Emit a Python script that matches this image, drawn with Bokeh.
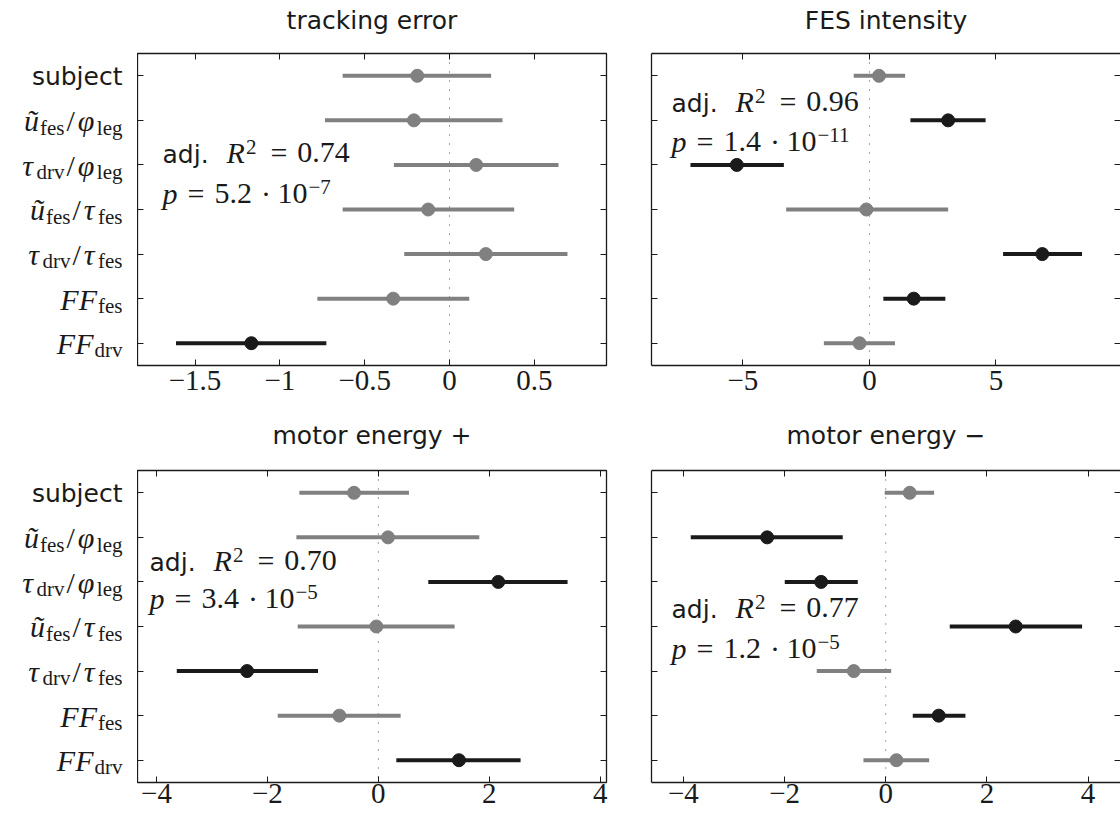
from bokeh.plotting import figure
from bokeh.models import Range1d, FixedTicker, LinearAxis, Span, Label, ColumnDataSource
from bokeh.layouts import gridplot
from bokeh.embed import file_html
from bokeh.resources import INLINE

# ---------------------------------------------------------------- data
predictors = ["subject", "ũ_fes/φ_leg", "τ_drv/φ_leg", "ũ_fes/τ_fes",
              "τ_drv/τ_fes", "FF_fes", "FF_drv"]
row_pos = [7, 6, 5, 4, 3, 2, 1]

titles = ["tracking error", "FES intensity", "motor energy +", "motor energy −"]

# tracking error
te_est = [-0.190, -0.210, 0.157, -0.126, 0.214, -0.332, -1.168]
te_lo = [-0.630, -0.734, -0.328, -0.630, -0.267, -0.779, -1.612]
te_hi = [0.245, 0.312, 0.642, 0.381, 0.695, 0.116, -0.726]
te_sig = [0, 0, 0, 0, 0, 0, 1]

# FES intensity
fi_est = [0.38, 3.11, -5.24, -0.12, 6.83, 1.75, -0.39]
fi_lo = [-0.62, 1.62, -7.07, -3.29, 5.28, 0.55, -1.80]
fi_hi = [1.41, 4.59, -3.38, 3.11, 8.40, 3.00, 1.01]
fi_sig = [0, 1, 1, 0, 1, 1, 0]

# motor energy +
mp_est = [-0.439, 0.174, 2.162, -0.036, -2.367, -0.703, 1.453]
mp_lo = [-1.424, -1.478, 0.900, -1.454, -3.634, -1.814, 0.324]
mp_hi = [0.552, 1.820, 3.411, 1.375, -1.088, 0.402, 2.564]
mp_sig = [0, 0, 1, 0, 1, 0, 1]

# motor energy -
mm_est = [0.474, -2.344, -1.277, 2.569, -0.632, 1.047, 0.211]
mm_lo = [-0.020, -3.854, -1.996, 1.265, -1.364, 0.534, -0.441]
mm_hi = [0.956, -0.850, -0.553, 3.881, 0.107, 1.575, 0.858]
mm_sig = [0, 1, 1, 1, 0, 1, 0]

adj_r2 = ["0.74", "0.96", "0.70", "0.77"]
p_mantissa = ["5.2", "1.4", "3.4", "1.2"]
p_exponent = ["−7", "−11", "−5", "−5"]

te_ticks = [-1.5, -1, -0.5, 0, 0.5]
te_tick_labels = ["−1.5", "−1", "−0.5", "0", "0.5"]
fi_ticks = [-5, 0, 5]
fi_tick_labels = ["−5", "0", "5"]
me_ticks = [-4, -2, 0, 2, 4]
me_tick_labels = ["−4", "−2", "0", "2", "4"]

# ---------------------------------------------------------------- style
INK = "#1a1a1a"
GREY = "#808080"
SERIF = "Liberation Serif"
SANS = "DejaVu Sans"
MATH_PX = 30
SUB_PX = 21
SANS_PX = 25
TICK_PX = 29
BASE_K = 0.32          # text anchor sits this many em above the baseline
TITLE_H = 45           # height of the strip carrying each panel title

ROMAN_W = {"d": .5, "r": .333, "v": .5, "f": .333, "e": .444, "s": .389,
           "l": .278, "g": .5, "/": .278, ".": .25, "=": .564, "·": .25,
           "−": .564, "+": .564, " ": .25}
ITALIC_W = {"F": .611, "R": .611, "p": .5, "ũ": .5, "τ": .44, "φ": .6}
SANS_W = {"a": .613, "d": .635, "j": .278, ".": .318, "s": .521, "u": .634,
          "b": .635, "e": .615, "c": .55, "t": .392}


def width_of(text, font, style, px):
    if font == SANS:
        table = SANS_W
    elif style == "italic":
        table = ITALIC_W
    else:
        table = ROMAN_W
    return px * sum(table.get(c, 0.5) for c in text)


def draw_runs(p, runs, x, y, dx, dy, align="left"):
    """Typeset text runs (text, font, style, px, rise, lead, trail) on one baseline."""
    advs = [r[5] + width_of(r[0], r[1], r[2], r[3]) + r[6] for r in runs]
    cur = dx - sum(advs) if align == "right" else dx
    for (t, f, s, px, rise, lead, trail), a in zip(runs, advs):
        p.add_layout(Label(x=x, y=y, x_offset=cur + lead,
                           y_offset=dy + rise + BASE_K * px,
                           text=t, text_font=f, text_font_style=s,
                           text_font_size=f"{px}px", text_color=INK,
                           text_align="left", text_baseline="alphabetic"))
        cur += a


def predictor_runs(name):
    if "_" not in name:
        return [(name, SANS, "normal", SANS_PX, 1, 0, 0)]
    runs = []
    for k, part in enumerate(name.split("/")):
        if k:
            runs.append(("/", SERIF, "normal", MATH_PX, 0, 2, 3))
        base, sub = part.split("_")
        runs.append((base, SERIF, "italic", MATH_PX, 0, 0, 1))
        runs.append((sub, SERIF, "normal", SUB_PX, -4, 0, 0))
    return runs


def blank(width, height, xr, yr, borders):
    left, right, top, bottom = borders
    f = figure(width=width, height=height, x_range=xr, y_range=yr,
               x_axis_type=None, y_axis_type=None, output_backend="svg",
               toolbar_location=None, min_border_left=left,
               min_border_right=right, min_border_top=top,
               min_border_bottom=bottom)
    f.outline_line_color = None
    f.grid.visible = False
    f.background_fill_color = "white"
    f.border_fill_color = "white"
    return f


def name_strip(height, top, bottom):
    """Column holding the predictor names, sharing the panels' row layout."""
    s = blank(137, height, Range1d(0, 137), Range1d(0.5, 7.5), (0, 0, top, bottom))
    for name, yv in zip(predictors, row_pos):
        draw_runs(s, predictor_runs(name), 122, yv, 0, -10, align="right")
    return s


def title_strip(text, width, xlim, left, right, baseline):
    t = blank(width, TITLE_H, Range1d(*xlim), Range1d(0, TITLE_H), (left, right, 0, 0))
    t.add_layout(Label(x=(xlim[0] + xlim[1]) / 2, y=TITLE_H - baseline,
                       y_offset=BASE_K * SANS_PX, text=text, text_font=SANS,
                       text_font_size=f"{SANS_PX}px", text_color=INK,
                       text_align="center", text_baseline="alphabetic"))
    return t


def panel(est, lo, hi, sig, xlim, ticks, tick_labels, r2, mant, expo,
          width, height, borders, label_gap, note_dx, note_drop, open_right):
    left, right, top, bottom = borders
    p = figure(width=width, height=height, x_range=Range1d(*xlim),
               y_range=Range1d(0.5, 7.5), output_backend="svg",
               toolbar_location=None, min_border_left=left,
               min_border_right=right, min_border_top=top,
               min_border_bottom=bottom)
    top_ax = LinearAxis()
    right_ax = LinearAxis()
    p.add_layout(top_ax, "above")
    p.add_layout(right_ax, "right")
    bottom_ax = p.below[0]
    left_ax = p.left[0]
    p.grid.visible = False
    p.background_fill_color = "white"
    p.border_fill_color = "white"
    for ax in (bottom_ax, top_ax):
        ax.ticker = FixedTicker(ticks=ticks)
    for ax in (left_ax, right_ax):
        ax.ticker = FixedTicker(ticks=row_pos)
    for ax in (bottom_ax, top_ax, left_ax, right_ax):
        ax.axis_line_color = None
        ax.major_tick_in = 6
        ax.major_tick_out = 0
        ax.major_tick_line_color = INK
        ax.major_tick_line_width = 1
        ax.minor_tick_line_color = None
        ax.major_label_text_font_size = "0px"
        ax.major_label_text_color = None
        ax.major_label_standoff = 0
    if open_right:
        # the box runs off the page edge on the right: frame three sides only
        p.outline_line_color = None
        for ax in (bottom_ax, top_ax, left_ax):
            ax.axis_line_color = INK
            ax.axis_line_width = 1.3
    else:
        p.outline_line_color = INK
        p.outline_line_width = 1.3
    bottom_ax.major_label_overrides = {float(t): lab for t, lab in zip(ticks, tick_labels)}
    bottom_ax.major_label_text_font = SERIF
    bottom_ax.major_label_text_font_size = f"{TICK_PX}px"
    bottom_ax.major_label_text_color = INK
    bottom_ax.major_label_standoff = label_gap

    p.add_layout(Span(location=0, dimension="height", line_color="#444444",
                      line_width=1, line_dash="1 8", level="underlay"))

    src = ColumnDataSource(dict(y=row_pos, est=est, lo=lo, hi=hi,
                                color=[INK if s else GREY for s in sig]))
    p.segment(x0="lo", y0="y", x1="hi", y1="y", line_color="color",
              line_width=4, source=src)
    p.scatter(x="est", y="y", size=13, fill_color="color", line_color="color",
              line_width=1, source=src)

    # fit statistics
    line1 = [("adj.", SANS, "normal", SANS_PX, 0, 0, 18),
             ("R", SERIF, "italic", MATH_PX, 0, 0, 0),
             ("2", SERIF, "normal", SUB_PX, 9, 1, 0),
             ("=", SERIF, "normal", MATH_PX, 0, 14, 10),
             (r2, SERIF, "normal", MATH_PX, 0, 0, 0)]
    line2 = [("p", SERIF, "italic", MATH_PX, 0, 0, 0),
             ("=", SERIF, "normal", MATH_PX, 0, 10, 10),
             (mant, SERIF, "normal", MATH_PX, 0, 0, 0),
             ("·", SERIF, "normal", MATH_PX, 0, 9, 9),
             ("10", SERIF, "normal", MATH_PX, 0, 0, 0),
             (expo, SERIF, "normal", SUB_PX, 10, 1, 0)]
    draw_runs(p, line1, xlim[0], 7.5, note_dx, -note_drop[0])
    draw_runs(p, line2, xlim[0], 7.5, note_dx, -note_drop[1])
    return p


TE_LIM = (-1.839, 0.925)
FI_LIM = (-8.61, 9.92)
MP_LIM = (-4.342, 4.113)
MM_LIM = (-4.63, 4.64)
PANEL_H = 408 - TITLE_H

t1 = title_strip(titles[0], 503, TE_LIM, 0, 34, 28)
t2 = title_strip(titles[1], 480, FI_LIM, 11, 0, 28)
s1 = name_strip(PANEL_H, 8, 43)
p1 = panel(te_est, te_lo, te_hi, te_sig, TE_LIM, te_ticks, te_tick_labels,
           adj_r2[0], p_mantissa[0], p_exponent[0],
           503, PANEL_H, (0, 34, 8, 43), 5, 25, (109, 150), False)
p2 = panel(fi_est, fi_lo, fi_hi, fi_sig, FI_LIM, fi_ticks, fi_tick_labels,
           adj_r2[1], p_mantissa[1], p_exponent[1],
           480, PANEL_H, (11, 0, 8, 43), 5, 20, (58, 98), True)

t3 = title_strip(titles[2], 503, MP_LIM, 0, 34, 35)
t4 = title_strip(titles[3], 480, MM_LIM, 11, 0, 35)
s3 = name_strip(PANEL_H, 17, 34)
p3 = panel(mp_est, mp_lo, mp_hi, mp_sig, MP_LIM, me_ticks, me_tick_labels,
           adj_r2[2], p_mantissa[2], p_exponent[2],
           503, PANEL_H, (0, 34, 17, 34), 1, 12, (100, 138), False)
p4 = panel(mm_est, mm_lo, mm_hi, mm_sig, MM_LIM, me_ticks, me_tick_labels,
           adj_r2[3], p_mantissa[3], p_exponent[3],
           480, PANEL_H, (11, 0, 17, 34), 1, 20, (147, 188), True)

grid = gridplot([[None, t1, t2], [s1, p1, p2], [None, t3, t4], [s3, p3, p4]],
                toolbar_location=None)

open("out.html", "w").write(file_html(grid, INLINE))
